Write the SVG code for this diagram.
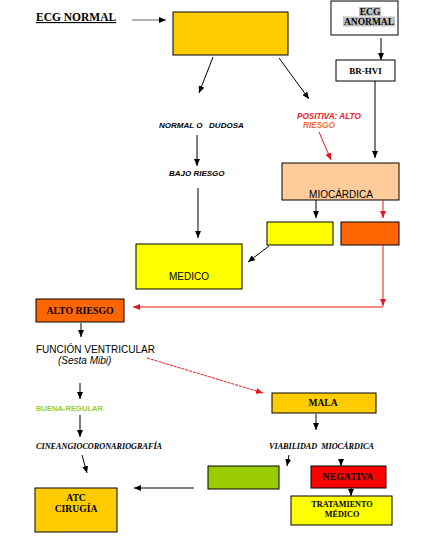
<svg xmlns="http://www.w3.org/2000/svg" width="426" height="545" viewBox="0 0 426 545">
<style>
.bx{stroke:#000;stroke-width:1}
.sr{font-family:"Liberation Serif","Times New Roman",serif;font-weight:bold}
.ss{font-family:"Liberation Sans",Arial,sans-serif}
.ln{fill:none;stroke:#000;stroke-width:1}
.rd{fill:none;stroke:#E8141B;stroke-width:1}
</style>
<defs>
<marker id="ab" markerUnits="userSpaceOnUse" markerWidth="7" markerHeight="6" refX="7" refY="3" orient="auto"><path d="M0,0 L7,3 L0,6 z" fill="#000"/></marker>
<marker id="ar" markerUnits="userSpaceOnUse" markerWidth="7" markerHeight="6" refX="7" refY="3" orient="auto"><path d="M0,0 L7,3 L0,6 z" fill="#E8141B"/></marker>
</defs>
<rect width="426" height="545" fill="#fff"/>

<g id="ecg-normal">
<text class="sr" x="36" y="21" font-size="11.5" text-decoration="underline">ECG NORMAL</text>
</g>
<g id="box-top">
<rect class="bx" x="173" y="12" width="115" height="43" fill="#FFCC00"/>
</g>
<g id="ecg-anormal">
<rect class="bx" x="331" y="1" width="67" height="34" fill="#fff"/>
<rect x="359" y="7" width="22" height="9" fill="#C0C0C0"/>
<rect x="343" y="16.5" width="52" height="10" fill="#C0C0C0"/>
<text class="sr" x="370" y="15" font-size="9.5" text-anchor="middle">ECG</text>
<text class="sr" x="369" y="25" font-size="9.5" text-anchor="middle">ANORMAL</text>
</g>
<g id="br-hvi">
<rect class="bx" x="336" y="60" width="59" height="21" fill="#fff"/>
<text class="sr" x="365.5" y="74" font-size="9" text-anchor="middle">BR-HVI</text>
</g>
<g id="normal-dudosa">
<text class="ss" x="159" y="128" font-size="8" font-weight="bold" font-style="italic" style="white-space:pre">NORMAL O   DUDOSA</text>
</g>
<g id="positiva">
<text class="ss" x="297" y="119" font-size="8.2" font-weight="bold" font-style="italic" fill="#F0202A">POSITIVA: ALTO</text>
<text class="ss" x="303" y="128" font-size="8.2" font-weight="bold" font-style="italic" fill="#F26A3C">RIESGO</text>
</g>
<g id="bajo-riesgo">
<text class="ss" x="169" y="176" font-size="8" font-weight="bold" font-style="italic">BAJO RIESGO</text>
</g>
<g id="miocardica">
<rect class="bx" x="282" y="163" width="117" height="37" fill="#FFCC99"/>
<text class="ss" x="341" y="198" font-size="10" text-anchor="middle">MIOCÁRDICA</text>
</g>
<g id="box-yellow-small">
<rect class="bx" x="267" y="222" width="66" height="23" fill="#FFFF00"/>
</g>
<g id="box-orange-small">
<rect class="bx" x="341" y="222" width="58" height="23" fill="#FF6600"/>
</g>
<g id="medico">
<rect class="bx" x="136" y="244" width="106" height="45" fill="#FFFF00"/>
<text class="ss" x="189" y="280" font-size="10" text-anchor="middle">MEDICO</text>
</g>
<g id="alto-riesgo">
<rect class="bx" x="36" y="299" width="88" height="23" fill="#FF6600"/>
<text class="sr" x="80" y="314" font-size="9.8" text-anchor="middle">ALTO RIESGO</text>
</g>
<g id="funcion-ventricular">
<text class="ss" x="36" y="353" font-size="10">FUNCIÓN VENTRICULAR</text>
<text class="ss" x="58" y="364" font-size="10" font-style="italic">(Sesta Mibi)</text>
</g>
<g id="buena-regular">
<text class="ss" x="36" y="411" font-size="7.6" font-weight="bold" fill="#99CC33">BUENA-REGULAR</text>
</g>
<g id="mala">
<rect class="bx" x="272" y="393" width="104" height="20" fill="#FFCC00"/>
<text class="sr" x="323" y="406" font-size="9.5" text-anchor="middle">MALA</text>
</g>
<g id="cineangio">
<text class="sr" x="36" y="449" font-size="8.2" font-style="italic">CINEANGIOCORONARIOGRAFÍA</text>
</g>
<g id="viabilidad">
<text class="sr" x="269" y="449" font-size="8.2" font-style="italic" style="white-space:pre" textLength="105" lengthAdjust="spacing">VIABILIDAD  MIOCÁRDICA</text>
</g>
<g id="box-green">
<rect class="bx" x="208" y="466" width="71" height="23" fill="#99CC00"/>
</g>
<g id="negativa">
<rect class="bx" x="311" y="466" width="75" height="22" fill="#FF0000"/>
<text class="sr" x="348" y="480" font-size="9.8" text-anchor="middle">NEGATIVA</text>
</g>
<g id="tratamiento">
<rect class="bx" x="291" y="496" width="101" height="29" fill="#FFFF00"/>
<text class="sr" x="342" y="507" font-size="8.2" text-anchor="middle">TRATAMIENTO</text>
<text class="sr" x="342" y="517" font-size="8.2" text-anchor="middle">MÉDICO</text>
</g>
<g id="atc">
<rect class="bx" x="35" y="488" width="82" height="44" fill="#FFCC00"/>
<text class="sr" x="76" y="501" font-size="9.6" text-anchor="middle">ATC</text>
<text class="sr" x="76" y="512" font-size="9.6" text-anchor="middle">CIRUGÍA</text>
</g>

<g id="connectors">
<line x1="132" y1="20" x2="166" y2="20" stroke="#666" stroke-width="1" marker-end="url(#ab)"/>
<line class="ln" x1="213" y1="57" x2="199" y2="93" marker-end="url(#ab)"/>
<line class="ln" x1="279" y1="58" x2="309" y2="99" marker-end="url(#ab)"/>
<line class="ln" x1="381" y1="38" x2="381" y2="60" marker-end="url(#ab)"/>
<line class="ln" x1="375" y1="81" x2="375" y2="158" marker-end="url(#ab)"/>
<line class="rd" x1="319" y1="132" x2="331" y2="160" marker-end="url(#ar)"/>
<line class="ln" x1="197" y1="135" x2="197" y2="166" marker-end="url(#ab)"/>
<line class="ln" x1="198" y1="188" x2="198" y2="238" marker-end="url(#ab)"/>
<line class="ln" x1="316" y1="200" x2="316" y2="218" marker-end="url(#ab)"/>
<line class="rd" x1="383" y1="200" x2="383" y2="218" marker-end="url(#ar)"/>
<line class="ln" x1="269" y1="246" x2="248" y2="262" marker-end="url(#ab)"/>
<line class="rd" x1="383" y1="245" x2="383" y2="306" marker-end="url(#ar)"/>
<line class="rd" x1="383" y1="307" x2="133" y2="307" marker-end="url(#ar)"/>
<line class="ln" x1="81" y1="323" x2="81" y2="337" marker-end="url(#ab)"/>
<line class="rd" x1="147" y1="358" x2="263" y2="393" stroke-dasharray="3 1" marker-end="url(#ar)"/>
<line class="ln" x1="80" y1="383" x2="80" y2="399" marker-end="url(#ab)"/>
<line class="ln" x1="80" y1="415" x2="80" y2="437" marker-end="url(#ab)"/>
<line class="ln" x1="316" y1="414" x2="316" y2="430" marker-end="url(#ab)"/>
<line class="ln" x1="82" y1="455" x2="87" y2="473" marker-end="url(#ab)"/>
<line class="ln" x1="289" y1="455" x2="287" y2="466" marker-end="url(#ab)"/>
<line class="ln" x1="341" y1="459" x2="341" y2="466" marker-end="url(#ab)"/>
<line class="ln" x1="351" y1="488" x2="351" y2="496" marker-end="url(#ab)"/>
<line class="ln" x1="194" y1="488" x2="134" y2="488" marker-end="url(#ab)"/>
</g>
</svg>
